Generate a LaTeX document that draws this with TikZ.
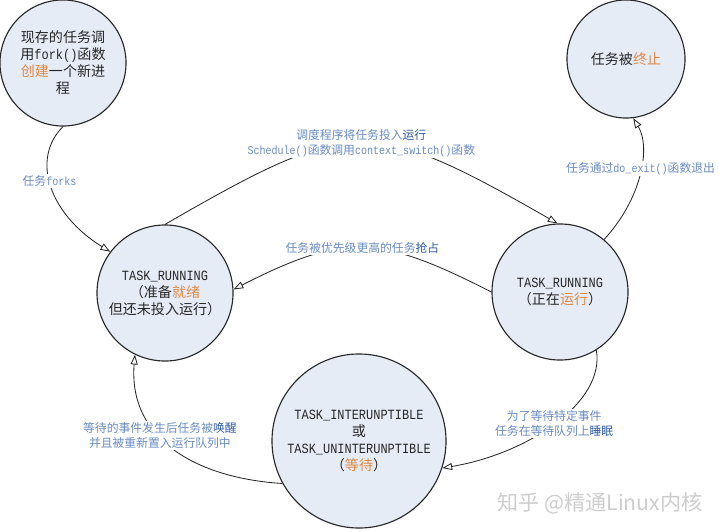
\documentclass[tikz,border=0pt]{standalone}
\usepackage{fontspec}
\setmainfont{Noto Sans CJK SC}
\newfontfamily\latfont{Liberation Mono}[Scale=1.0, FakeStretch=0.85]
\usetikzlibrary{arrows.meta}
\definecolor{stfill}{RGB}{230, 236, 246}
\definecolor{stline}{RGB}{40, 40, 40}
\definecolor{hlorange}{RGB}{222, 137, 70}
\definecolor{lblblue}{RGB}{105, 140, 195}
\definecolor{hlblue}{RGB}{45, 90, 160}
\definecolor{wmgray}{RGB}{205, 205, 205}
\newcommand{\lat}[1]{{\latfont #1}}
\newcommand{\hlo}[1]{{\color{hlorange}#1}}
\newcommand{\hlb}[1]{{\color{hlblue}#1}}
\tikzset{
  state/.style={circle, draw=stline, line width=0.8pt, fill=stfill, minimum size=#1,
                inner sep=0pt, align=center, text=black!85,
                font=\fontsize{10pt}{12.1pt}\selectfont},
  state/.default=3.4cm,
  lbl/.style={fill=white, inner sep=1pt, align=center, text=lblblue,
              font=\fontsize{8.4pt}{10.7pt}\selectfont},
  arrow/.style={-{Triangle[open, length=7pt, width=5pt]}, line width=0.6pt, color=stline},
  wmark/.style={text=wmgray, font=\fontsize{15pt}{18pt}\selectfont},
}
\begin{document}
\begin{tikzpicture}[x=0.025cm, y=-0.025cm]
  \useasboundingbox (0,0) rectangle (720,531);
  % states
  \node[state=3.15cm] (fork) at (63,63)
       {现存的任务调\\用\lat{fork()}函数\\\hlo{创建}一个新进\\程};
  \node[state=2.95cm] (term) at (626,59) {任务被\hlo{终止}};
  \node[state] (ready) at (165,293)
       {\lat{TASK\_RUNNING}\\（准备\hlo{就绪}\\但还未投入运行）};
  \node[state] (running) at (560,292)
       {\lat{TASK\_RUNNING}\\（正在\hlo{运行}）};
  \node[state=4.35cm] (wait) at (359,441)
       {\lat{TASK\_INTERUNPTIBLE}\\或\\\lat{TASK\_UNINTERUNPTIBLE}\\（\hlo{等待}）};
  % transitions
  \draw[arrow] (fork.270) .. controls +(-33,33) and +(-60,-37) ..
       node[lbl, pos=0.45] {任务\lat{forks}} (ready.143);
  \draw[arrow] (ready.90) .. controls +(187,-108) and +(-187,-107) ..
       node[lbl] {调度程序将任务投入\hlb{运行}\\\lat{Schedule()}函数调用\lat{context\_switch()}函数} (running.92);
  \draw[arrow] (running.180) .. controls +(-112,-57) and +(112,-57) ..
       node[lbl] {任务被优先级更高的任务\hlb{抢占}} (ready.3);
  \draw[arrow] (running.50) .. controls +(37,-40) and +(18,30) ..
       node[lbl, pos=0.55] {任务通过\lat{do\_exit()}函数退出} (term.-83);
  \draw[arrow] (running.-58) .. controls +(9,53) and +(84,-14) ..
       node[lbl] {为了等待特定事件\\任务在等待队列上\hlb{睡眠}} (wait.-18);
  \draw[arrow] (wait.209) .. controls +(-83,-5) and +(-7,86) ..
       node[lbl, pos=0.6] {等待的事件发生后任务被\hlb{唤醒}\\并且被重新置入运行队列中} (ready.244);
  % watermark
  \node[wmark] (wm) at (600,503) {知乎 @精通Linux内核};
\end{tikzpicture}
\end{document}
